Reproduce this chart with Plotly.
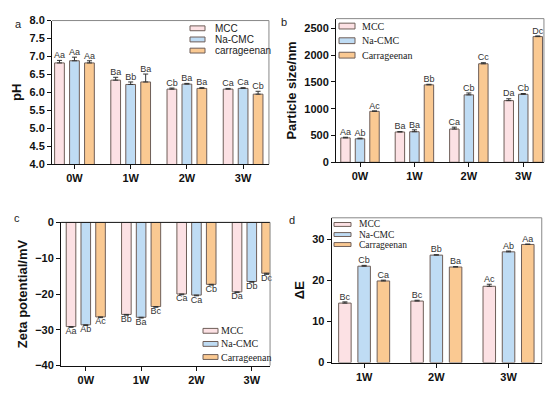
import plotly.graph_objects as go

# ---------------- data ----------------
weeks4 = ["0W", "1W", "2W", "3W"]
weeks3 = ["1W", "2W", "3W"]
names_a = ["MCC", "Na-CMC", "carrageenan"]
names_bcd = ["MCC", "Na-CMC", "Carrageenan"]

# (a) pH
ph_mcc = [6.82, 6.34, 6.09, 6.09]
ph_cmc = [6.88, 6.22, 6.23, 6.11]
ph_car = [6.82, 6.29, 6.11, 5.95]
ph_mcc_err = [0.07, 0.08, 0.03, 0.02]
ph_cmc_err = [0.10, 0.07, 0.02, 0.02]
ph_car_err = [0.06, 0.22, 0.02, 0.08]
ph_mcc_lab = ["Aa", "Ba", "Cb", "Ca"]
ph_cmc_lab = ["Aa", "Bb", "Ba", "Ca"]
ph_car_lab = ["Aa", "Ba", "Ba", "Cb"]

# (b) particle size
ps_mcc = [455, 565, 620, 1150]
ps_cmc = [438, 570, 1258, 1268]
ps_car = [950, 1445, 1838, 2345]
ps_mcc_err = [12, 8, 35, 35]
ps_cmc_err = [12, 35, 35, 15]
ps_car_err = [8, 10, 20, 12]
ps_mcc_lab = ["Aa", "Ba", "Ca", "Da"]
ps_cmc_lab = ["Ab", "Ba", "Cb", "Cb"]
ps_car_lab = ["Ac", "Bb", "Cc", "Dc"]

# (c) zeta potential
zp_mcc = [-29.1, -25.7, -20.0, -19.4]
zp_cmc = [-28.6, -26.5, -20.3, -16.5]
zp_car = [-26.4, -23.5, -17.3, -14.2]
zp_mcc_err = [0.2, 0.2, 0.2, 0.2]
zp_cmc_err = [0.2, 0.2, 0.2, 0.2]
zp_car_err = [0.2, 0.2, 0.2, 0.3]
zp_mcc_lab = ["Aa", "Bb", "Ca", "Da"]
zp_cmc_lab = ["Ab", "Ba", "Ca", "Db"]
zp_car_lab = ["Ac", "Bc", "Cb", "Dc"]

# (d) colour difference
de_mcc = [14.5, 15.0, 18.6]
de_cmc = [23.5, 26.2, 27.0]
de_car = [19.9, 23.3, 28.8]
de_mcc_err = [0.3, 0.2, 0.5]
de_cmc_err = [0.2, 0.1, 0.2]
de_car_err = [0.2, 0.1, 0.1]
de_mcc_lab = ["Bc", "Bc", "Ac"]
de_cmc_lab = ["Cb", "Bb", "Ab"]
de_car_lab = ["Ca", "Ba", "Aa"]

# ---------------- style ----------------
W, H = 550, 395
fills = ["#FCE1E4", "#BFDCF4", "#FAC992"]
edge = "#6E5E58"
sans = "Liberation Sans, Arial, sans-serif"
serif = "Liberation Serif, Times New Roman, serif"

fig = go.Figure()


def add_panel(ax, cats, vals, errs, labs, names, negative=False):
    xa = "x" if ax == 1 else f"x{ax}"
    ya = "y" if ax == 1 else f"y{ax}"
    for k in range(3):
        n = len(cats)
        if negative:
            ey = dict(type="data", symmetric=False, array=[0] * n,
                      arrayminus=errs[k], color="#333", thickness=1, width=2.5)
            ty = [v - e for v, e in zip(vals[k], errs[k])]
            tpos = "bottom center"
        else:
            ey = dict(type="data", symmetric=False, array=errs[k],
                      arrayminus=[0] * n, color="#333", thickness=1, width=2.5)
            ty = [v + e for v, e in zip(vals[k], errs[k])]
            tpos = "top center"
        fig.add_trace(go.Bar(
            x=cats, y=vals[k], name=names[k], error_y=ey,
            marker=dict(color=fills[k], line=dict(color=edge, width=1)),
            offsetgroup=str(k), xaxis=xa, yaxis=ya, showlegend=False,
        ))
        fig.add_trace(go.Scatter(
            x=cats, y=ty, mode="text", text=labs[k], textposition=tpos,
            textfont=dict(family=sans, size=9, color="#333"),
            offsetgroup=str(k), xaxis=xa, yaxis=ya, showlegend=False,
            cliponaxis=False, hoverinfo="skip",
        ))


add_panel(1, weeks4, [ph_mcc, ph_cmc, ph_car], [ph_mcc_err, ph_cmc_err, ph_car_err],
          [ph_mcc_lab, ph_cmc_lab, ph_car_lab], names_a)
add_panel(2, weeks4, [ps_mcc, ps_cmc, ps_car], [ps_mcc_err, ps_cmc_err, ps_car_err],
          [ps_mcc_lab, ps_cmc_lab, ps_car_lab], names_bcd)
add_panel(3, weeks4, [zp_mcc, zp_cmc, zp_car], [zp_mcc_err, zp_cmc_err, zp_car_err],
          [zp_mcc_lab, zp_cmc_lab, zp_car_lab], names_bcd, negative=True)
add_panel(4, weeks3, [de_mcc, de_cmc, de_car], [de_mcc_err, de_cmc_err, de_car_err],
          [de_mcc_lab, de_cmc_lab, de_car_lab], names_bcd)

tickfont = dict(family=sans, size=11, color="#111", weight="bold")
titlefont = dict(family=sans, size=13, color="#111", weight="bold")


def xax(domain, rng, anchor):
    return dict(domain=domain, range=rng, anchor=anchor, type="category",
                showline=True, linecolor="#111", linewidth=1, ticks="outside",
                ticklen=4, tickcolor="#111", tickfont=tickfont, showgrid=False,
                zeroline=False, fixedrange=True)


def yax(domain, rng, anchor, dtick, title, fmt=None, standoff=4):
    d = dict(domain=domain, range=rng, anchor=anchor, dtick=dtick,
             showline=True, linecolor="#111", linewidth=1, ticks="outside",
             ticklen=4, tickcolor="#111", tickfont=tickfont, showgrid=False,
             zeroline=False, fixedrange=True,
             title=dict(text=title, font=titlefont, standoff=standoff))
    if fmt:
        d["tickformat"] = fmt
    return d


fig.update_layout(
    width=W, height=H, margin=dict(l=0, r=0, t=0, b=0),
    paper_bgcolor="white", plot_bgcolor="white", showlegend=False,
    barmode="group", bargap=0.2, bargroupgap=0.35,
    scattermode="group", scattergap=0.2,
    xaxis=xax([0.0945, 0.489], [-0.4, 3.46], "y"),
    yaxis=yax([0.587, 0.962], [4, 8], "x", 0.5, "pH", ".1f"),
    xaxis2=xax([0.611, 0.989], [-0.44, 3.38], "y2"),
    yaxis2=yax([0.592, 0.967], [0, 2680], "x2", 500, "Particle size/nm"),
    xaxis3=xax([0.111, 0.491], [-0.447, 3.33], "y3"),
    yaxis3=yax([0.061, 0.435], [-40, 0], "x3", 10, "Zeta potential/mV"),
    xaxis4=xax([0.603, 0.985], [-0.45, 2.46], "y4"),
    yaxis4=yax([0.069, 0.447], [0, 35.3], "x4", 10, "\u0394E"),
)

# top / right frame lines of each panel
for i in range(1, 5):
    xr = "x domain" if i == 1 else f"x{i} domain"
    yr = "y domain" if i == 1 else f"y{i} domain"
    topc = "#111" if i == 3 else "#888"
    fig.add_shape(type="line", xref=xr, yref=yr, x0=0, x1=1, y0=1, y1=1,
                  line=dict(color=topc, width=1))
    fig.add_shape(type="line", xref=xr, yref=yr, x0=1, x1=1, y0=0, y1=1,
                  line=dict(color="#888", width=1))


# legends (compact key boxes like the original figure)
def add_legend(names, sw_x, rows, text_x, font, sw_w=15, sw_h=5):
    for k, name in enumerate(names):
        yc = rows[k]
        fig.add_shape(type="rect", xref="paper", yref="paper",
                      x0=sw_x / W, x1=(sw_x + sw_w) / W,
                      y0=1 - (yc + sw_h / 2) / H, y1=1 - (yc - sw_h / 2) / H,
                      fillcolor=fills[k], line=dict(color=edge, width=1))
        fig.add_annotation(text=name, x=text_x / W, y=1 - yc / H, xref="paper",
                           yref="paper", xanchor="left", yanchor="middle",
                           showarrow=False, borderpad=0, font=font)


add_legend(names_a, 190, [23, 34.5, 46], 214, dict(family=sans, size=10, color="#222"))
add_legend(names_bcd, 339, [20.7, 35.8, 50.7], 361, dict(family=serif, size=10, color="#222"),
           sw_w=16, sw_h=6)
add_legend(names_bcd, 203, [335, 348.5, 362], 220, dict(family=serif, size=10, color="#222"))
add_legend(names_bcd, 334, [225.3, 235.7, 246], 358, dict(family=serif, size=9.5, color="#222"),
           sw_w=17, sw_h=4)

# panel letters
for txt, px, py in [("a", 13, 10), ("b", 284, 8), ("c", 12, 219), ("d", 292, 221)]:
    fig.add_annotation(text=txt, x=px / W, y=1 - py / H, xref="paper", yref="paper",
                       showarrow=False, font=dict(family=sans, size=11, color="#222"))

fig.write_html("out.html", config={"displayModeBar": False},
               post_script="document.body.style.margin='0';document.body.style.overflow='hidden';")
